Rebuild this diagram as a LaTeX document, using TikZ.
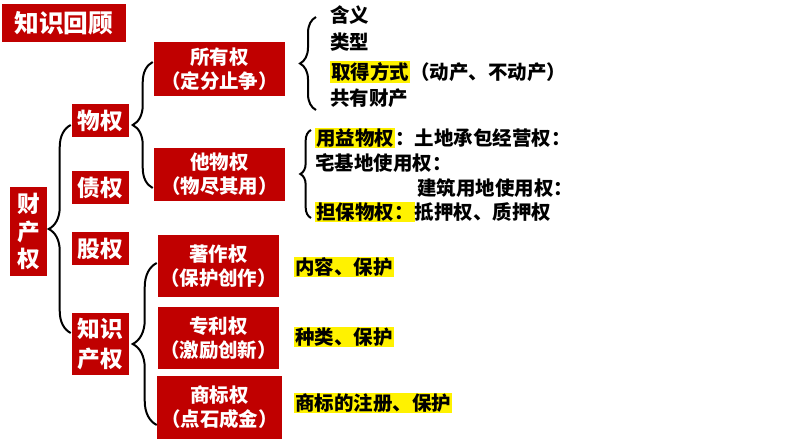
\documentclass[tikz,border=0pt]{standalone}
\usepackage{fontspec}
\setmainfont{Noto Sans CJK SC}
\usetikzlibrary{decorations.pathreplacing}
\definecolor{boxred}{RGB}{192,0,0}
\newcommand{\hl}[1]{{\setlength\fboxsep{0.8pt}\colorbox{yellow}{#1}}}

\begin{document}
\begin{tikzpicture}[x=0.75pt, y=-0.75pt,
    box/.style={fill=boxred, text=white, inner sep=0pt, align=center, font=\bfseries},
    bigbox/.style={box, minimum width=98.25pt, minimum height=40.5pt,
                   font=\bfseries\fontsize{14.6}{18}\selectfont},
    ipbox/.style={box, minimum width=90.75pt, minimum height=46.5pt,
                  font=\bfseries\fontsize{14.6}{18}\selectfont},
    smallbox/.style={box, minimum width=42.75pt, minimum height=24.75pt,
                     font=\bfseries\fontsize{17}{23}\selectfont},
    item/.style={anchor=west, inner sep=0pt, font=\bfseries\fontsize{14.6}{18}\selectfont},
    hlitem/.style={item, fill=yellow, inner sep=0.8pt},
    brace/.style={decorate, decoration={brace, amplitude=#1}, line width=1.5pt}
]
\useasboundingbox (0,0) rectangle (794,447);

% Title
\node[box, minimum width=93pt, minimum height=28.5pt,
      font=\bfseries\fontsize{18.5}{20}\selectfont] (title) at (64,23) {知识回顾};

% Root
\node[box, minimum width=27.75pt, minimum height=66.75pt,
      font=\bfseries\fontsize{17}{20.6}\selectfont] (ccq) at (28.5,231.5) {财\\产\\权};

% Second level
\node[smallbox] (wuquan) at (100.5,120.5) {物权};
\node[smallbox] (zhaiquan) at (100.5,187.5) {债权};
\node[smallbox] (guquan) at (100.5,248.5) {股权};
\node[smallbox, minimum height=46.5pt] (zscq) at (100.5,344) {知识\\产权};

% Property rights
\node[bigbox] (suoyou) at (219.5,69) {所有权\\（定分止争）};
\node[bigbox, minimum height=40pt] (tawuquan) at (219.5,174.5) {他物权\\（物尽其用）};

% Intellectual property
\node[ipbox] (zhuzuo) at (218.5,266) {著作权\\（保护创作）};
\node[ipbox] (zhuanli) at (218.5,338) {专利权\\（激励创新）};
\node[ipbox, minimum width=93.75pt, minimum height=47.25pt] (shangbiao) at (219.5,407.5) {商标权\\（点石成金）};

% Ownership items
\node[item] (hanyi) at (330,15) {含义};
\node[item] (leixing) at (330,42) {类型};
\node[item] (qude) at (330,72) {\hl{取得方式}（动产、不动产）};
\node[item] (gongyou) at (330,98) {共有财产};

% Other real rights items
\node[item] (yongyi) at (315,138) {\hl{用益物权}：土地承包经营权：};
\node[item] (zhaiji) at (315,163) {宅基地使用权：};
\node[item] (jianzhu) at (417,188) {建筑用地使用权：};
\node[item] (danbao) at (315,212) {\hl{担保物权：}抵押权、质押权};

% IP items
\node[hlitem] (neirong) at (294,267) {内容、保护};
\node[hlitem] (zhonglei) at (294,337) {种类、保护};
\node[hlitem] (zhuce) at (294,403) {商标的注册、保护};

% Braces
\draw[brace=16.5pt] ([shift={(-1,-11)}]zscq.west) -- ([shift={(-1,4.5)}]wuquan.west);
\draw[brace=15pt] ([shift={(-1,13.5)}]tawuquan.west) -- ([shift={(-1,-7)}]suoyou.west);
\draw[brace=18pt] ([shift={(0,17.5)}]shangbiao.west) -- ([shift={(-1,-3)}]zhuzuo.west);
\draw[brace=12pt] ([shift={(-14,12)}]gongyou.west) -- ([shift={(-14,2)}]hanyi.west);
\draw[brace=8pt] ([shift={(-4,6)}]danbao.west) -- ([shift={(-4,-8)}]yongyi.west);

\end{tikzpicture}
\end{document}
